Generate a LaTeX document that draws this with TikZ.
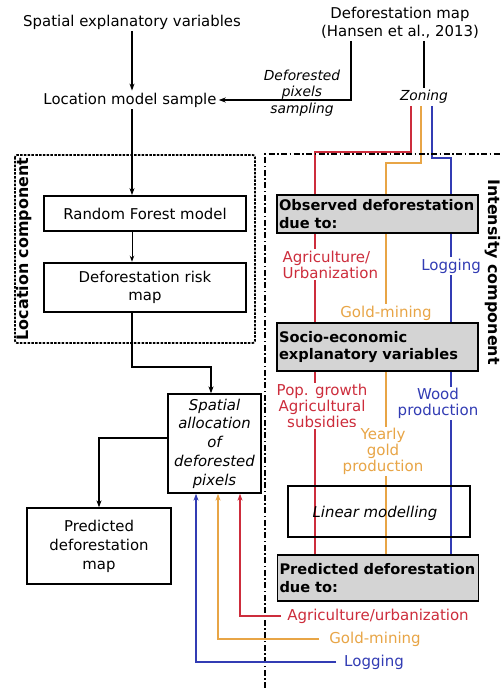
\documentclass[tikz,border=0pt]{standalone}
\usepackage{fontspec}
\setmainfont{DejaVu Sans}
\usetikzlibrary{arrows.meta,calc,backgrounds}
\definecolor{cred}{RGB}{205,45,60}
\definecolor{corange}{RGB}{232,165,70}
\definecolor{cblue}{RGB}{50,60,180}
\definecolor{cgray}{RGB}{212,212,212}
\begin{document}
\begin{tikzpicture}[x=1pt,y=-1pt,
  every node/.style={font=\fontsize{14.9}{18}\selectfont, inner sep=2pt},
  txt/.style={align=center},
  ital/.style={align=center,font=\itshape\fontsize{13.8}{16.5}\selectfont},
  bbox/.style={draw,line width=1.6pt,fill=white,align=center},
  gbox/.style={draw,line width=1.4pt,fill=cgray,align=left,
     font=\bfseries\fontsize{14.6}{17.5}\selectfont,text width=197pt,inner xsep=2pt},
  clab/.style={align=center,fill=white,inner sep=1.5pt,font=\fontsize{15}{16}\selectfont},
  arr/.style={-{Stealth[length=7pt,width=5pt]},line width=1.4pt},
  cline/.style={line width=1.3pt,draw=#1,color=#1},
  comp/.style={font=\bfseries\fontsize{15.9}{18}\selectfont,inner sep=0pt}
]
\useasboundingbox (0,0) rectangle (502,688);

% top
\node[txt] (sev) at (132,22) {Spatial explanatory variables};
\node[txt] (lms) at (130,100) {Location model sample};
\node[txt] (defmap) at (400,23) {Deforestation map\\(Hansen et al., 2013)};
\node[ital] (dps) at (302,93) {Deforested\\pixels\\sampling};
\node[ital] (zon) at (424,97) {Zoning};

% location component
\draw[line width=1.7pt,dash pattern=on 2.5pt off 1.3pt,rounded corners=2pt] (15,155) rectangle (255,343);
\node[comp,rotate=90] (loc) at (24,249) {Location component};
\node[bbox,line width=1.8pt,minimum width=202pt,minimum height=35pt] (rf) at (145,213.5) {Random Forest model};
\node[bbox,line width=2.6pt,minimum width=202pt,minimum height=49pt] (drm) at (145,287.5) {Deforestation risk\\map};

\node[bbox,line width=1.3pt,minimum width=93pt,minimum height=99pt,inner xsep=1pt,
  font=\itshape\fontsize{14.9}{18.75}\selectfont] (spatial) at (214.5,443.5) {Spatial\\allocation\\of\\deforested\\pixels};
\node[bbox,line width=1.3pt,minimum width=144pt,minimum height=76pt,
  font=\fontsize{14.9}{19}\selectfont] (pmap) at (99,546) {Predicted\\deforestation\\map};

% intensity component
\draw[line width=1.8pt,dash pattern=on 6pt off 2.5pt on 1.5pt off 2.5pt] (265,688) -- (265,154) -- (502,154);
\node[comp,rotate=-90] (int) at (493,272) {Intensity component};

\node[gbox,minimum height=38pt] (obs) at (377.5,214) {Observed deforestation\\due to:};
\node[gbox,minimum height=48pt] (soc) at (377.5,347) {Socio-economic\\explanatory variables};
\node[draw,line width=1.3pt,minimum width=182pt,minimum height=51pt] (lin) at (379,511.5) {};
\node[font=\itshape\fontsize{14.9}{18}\selectfont] (lint) at (375,513) {Linear modelling};
\node[gbox,minimum height=46pt] (pred) at (378,578) {Predicted deforestation\\due to:};

% colored labels
\node[clab,text=cred,align=left,anchor=west] (agu) at (281,264.5) {Agriculture/\\Urbanization};
\node[clab,text=cblue] (lg1) at (451,266) {Logging};
\node[clab,text=corange] (gm1) at (386,313) {Gold-mining};
\node[clab,text=cred] (pop) at (322,406) {Pop. growth\\Agricultural\\subsidies};
\node[clab,text=cblue] (wood) at (438,403.5) {Wood\\production};
\node[clab,text=corange] (ygp) at (383,451.5) {Yearly\\gold\\production};

\node[clab,text=cred,inner xsep=6pt] (agr) at (378,616) {Agriculture/urbanization};
\node[clab,text=corange,inner xsep=10pt] (gm2) at (375,639) {Gold-mining};
\node[clab,text=cblue,inner xsep=8pt] (lg2) at (374,662) {Logging};

\begin{pgfonlayer}{background}
\draw[cline=cred] (411,0 |- zon.south) -- (411,152) -- (315,152) -- (315,0 |- pred.north);
\draw[cline=corange] (421,0 |- zon.south) -- (421,163) -- (386,163) -- (386,0 |- pred.north);
\draw[cline=cblue] (432,0 |- zon.south) -- (432,158) -- (451,158) -- (451,0 |- pred.north);
\end{pgfonlayer}

% black connectors
\draw[arr] (132,0 |- sev.south) -- (132,0 |- lms.north);
\draw[arr] (351,0 |- defmap.south) |- (lms.east);
\draw[line width=1.3pt] (424,0 |- defmap.south) -- (zon.north);
\draw[arr] (132,0 |- lms.south) -- (132,0 |- rf.north);
\draw[-{Stealth[length=6pt,width=4.5pt]},line width=1pt] (132,0 |- rf.south) -- (132,0 |- drm.north);
\draw[arr] (132,0 |- drm.south) -- (132,367) -| (211,0 |- spatial.north);
\draw[arr] (spatial.west |- 0,438) -| (pmap.north);

% colored arrows
\draw[cline=cred,-{Stealth[length=7pt,width=5pt]}] (agr.west) -| (240,0 |- spatial.south);
\draw[cline=corange,-{Stealth[length=7pt,width=5pt]}] (gm2.west) -| (218,0 |- spatial.south);
\draw[cline=cblue,-{Stealth[length=7pt,width=5pt]}] (lg2.west) -| (196,0 |- spatial.south);
\end{tikzpicture}
\end{document}
